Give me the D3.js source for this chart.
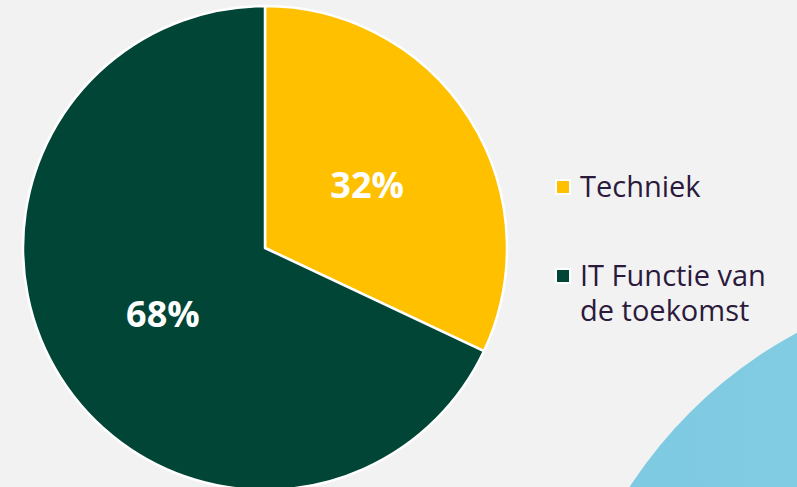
<!DOCTYPE html>
<html>
<head>
<meta charset="utf-8">
<script src="https://cdn.jsdelivr.net/npm/d3@7"></script>
<style>
  html, body { margin: 0; padding: 0; background: #f2f2f2; }
  svg { display: block; }
</style>
</head>
<body>
<div id="chart"></div>
<script>
const categories = ['Techniek', 'IT Functie van de toekomst']
const values = [32, 68]
const colors = ['#ffc000', '#004536']
// legend text wrapped as in the original slide
const legendLines = [['Techniek'], ['IT Functie van', 'de toekomst']]

const chart_width = 797
const chart_height = 487
const cx = 265
const cy = 248
const radius = 242

var svg = d3.select('#chart')
    .append('svg')
    .attr('width', chart_width)
    .attr('height', chart_height)

svg.append('rect')
    .attr('width', chart_width)
    .attr('height', chart_height)
    .attr('fill', '#f2f2f2')

// decorative blue circle in the corner
var defs = svg.append('defs')
var grad = defs.append('linearGradient')
    .attr('id', 'blue')
    .attr('x1', 0).attr('y1', 0).attr('x2', 1).attr('y2', 0)
grad.append('stop').attr('offset', '0%').attr('stop-color', '#7cc9e1')
grad.append('stop').attr('offset', '100%').attr('stop-color', '#92d4e9')

svg.append('circle')
    .attr('cx', 1014)
    .attr('cy', 736)
    .attr('r', 458)
    .attr('fill', 'url(#blue)')

var pie = d3.pie()
    .sort(null)
    .value(function(d){ return d })

var arc = d3.arc()
    .innerRadius(0)
    .outerRadius(radius)

var g = svg.append('g')
    .attr('transform', 'translate(' + cx + ',' + cy + ')')

g.selectAll('path')
    .data(pie(values))
    .enter()
    .append('path')
    .attr('d', arc)
    .attr('fill', function(d, i){ return colors[i] })
    .attr('stroke', '#ffffff')
    .attr('stroke-width', 2.5)
    .attr('stroke-linejoin', 'round')

var labelArc = d3.arc()
    .innerRadius(radius * 0.5)
    .outerRadius(radius * 0.5)

g.selectAll('text')
    .data(pie(values))
    .enter()
    .append('text')
    .attr('x', function(d){ return labelArc.centroid(d)[0] })
    .attr('y', function(d){ return labelArc.centroid(d)[1] })
    .attr('dy', '0.4em')
    .attr('text-anchor', 'middle')
    .attr('fill', '#ffffff')
    .attr('font-family', 'Open Sans, sans-serif')
    .attr('font-weight', 'bold')
    .attr('font-size', 36)
    .text(function(d){ return d.value + '%' })

// legend
var legendY = [187, 276]
var legend = svg.append('g')
    .attr('class', 'legend')

var items = legend.selectAll('g')
    .data(categories)
    .enter()
    .append('g')
    .attr('transform', function(d, i){
        return 'translate(556,' + legendY[i] + ')'
    })

items.append('rect')
    .attr('x', 0)
    .attr('y', -7)
    .attr('width', 14)
    .attr('height', 14)
    .attr('fill', function(d, i){ return colors[i] })
    .attr('stroke', '#ffffff')
    .attr('stroke-width', 2)

items.append('text')
    .attr('x', 24)
    .attr('y', 10)
    .attr('fill', '#2b1a3c')
    .attr('font-family', 'Open Sans, sans-serif')
    .attr('font-size', 29)
    .each(function(d, i){
        var t = d3.select(this)
        legendLines[i].forEach(function(line, j){
            t.append('tspan')
                .attr('x', 24)
                .attr('dy', j === 0 ? 0 : 35)
                .text(line)
        })
    })
</script>
</body>
</html>
